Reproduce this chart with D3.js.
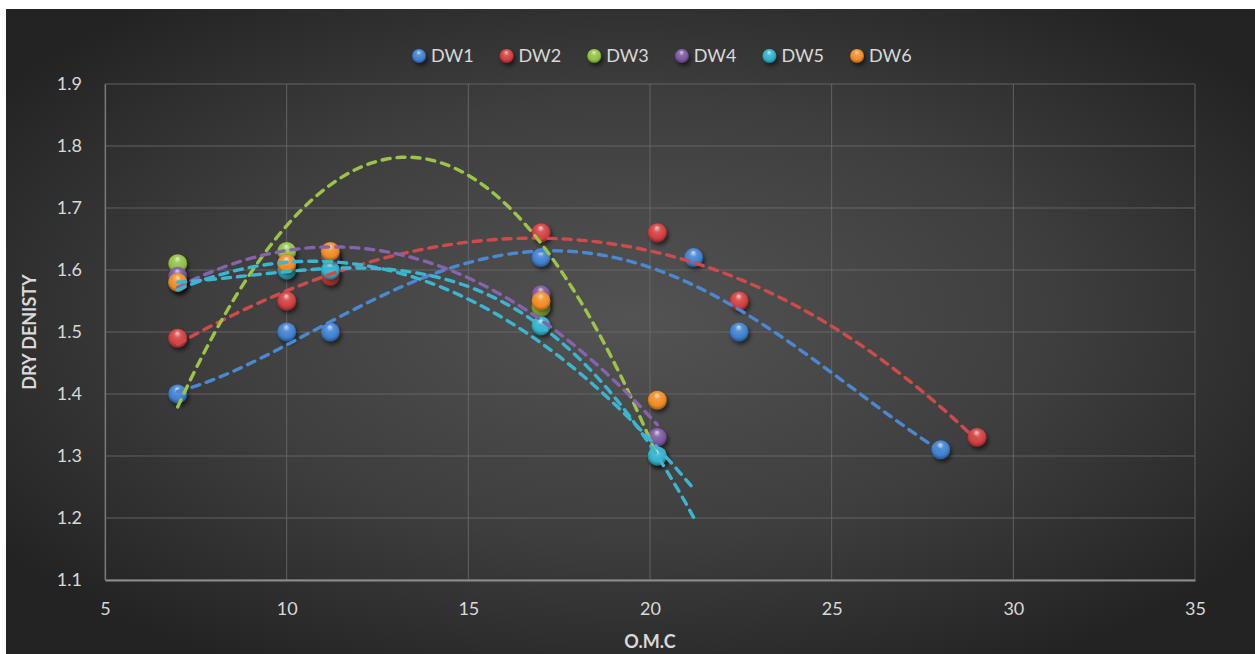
<!DOCTYPE html>
<html><head><meta charset="utf-8">
<script src="https://cdn.jsdelivr.net/npm/d3@7/dist/d3.min.js"></script>
<style>html,body{margin:0;padding:0;background:#fff;}svg{display:block;}</style>
</head><body>
<svg id="chart" width="1255" height="654"></svg>
<script>
// ---- data ----
const seriesNames = ["DW1","DW2","DW3","DW4","DW5","DW6"];
const seriesColors = ["#3d7fd0","#d23d3d","#92c140","#7a559f","#2fb0cb","#f08a20"];
const dw1X = [7,10,11.2,17,21.2,22.45,28];
const dw1Y = [1.40,1.50,1.50,1.62,1.62,1.50,1.31];
const dw2X = [7,10,11.2,17,20.2,22.45,29];
const dw2Y = [1.49,1.55,1.59,1.66,1.66,1.55,1.33];
const dw3X = [7,10,11.2,17,20.2];
const dw3Y = [1.61,1.63,1.62,1.54,1.30];
const dw4X = [7,10,11.2,17,20.2];
const dw4Y = [1.59,1.61,1.62,1.56,1.33];
const dw5X = [7,10,11.2,17,20.2];
const dw5Y = [1.58,1.60,1.60,1.51,1.30];
const dw6X = [7,10,11.2,17,20.2];
const dw6Y = [1.58,1.61,1.63,1.55,1.39];
// trendlines: least-squares polynomials of the series (order, forward forecast)
const trendSeries  = [0, 1, 3, 4, 4];
const trendOrder   = [4, 3, 2, 2, 3];
const trendForward = [0, 0, 0, 1, 1];
const trendColors  = ["#4a88d2","#cf4a4a","#8563ad","#3cb5d0","#3cb5d0"];
// DW3 trendline as drawn in the picture (vertex form: peak x, peak y, curvature), x range
const dw3TrendVertex = [13.3, 1.782, -0.01015];
const dw3TrendRange = [7, 20.2];
const dw3TrendColor = "#9dc448";
const xTicks = [5,10,15,20,25,30,35];
const yTicks = [1.1,1.2,1.3,1.4,1.5,1.6,1.7,1.8,1.9];
const xTitle = "O.M.C";
const yTitle = "DRY DENISTY";

const seriesX = [dw1X,dw2X,dw3X,dw4X,dw5X,dw6X];
const seriesY = [dw1Y,dw2Y,dw3Y,dw4Y,dw5Y,dw6Y];

const svg = d3.select("#chart");
const W = 1255, H = 654;
const font = "Lato, 'Open Sans', sans-serif";
const defs = svg.append("defs");

// background gradient
const bg = defs.append("radialGradient").attr("id","bg")
  .attr("cx","50%").attr("cy","48%").attr("r","62%");
bg.append("stop").attr("offset","0%").attr("stop-color","#535353");
bg.append("stop").attr("offset","55%").attr("stop-color","#3e3e3e");
bg.append("stop").attr("offset","100%").attr("stop-color","#232323");
svg.append("rect").attr("x",6).attr("y",9).attr("width",W-6).attr("height",H-9).attr("fill","url(#bg)");

// sphere gradients
function lighten(c,k){return d3.interpolateRgb(c,"#ffffff")(k);}
function darken(c,k){return d3.interpolateRgb(c,"#000000")(k);}
seriesColors.forEach((c,i)=>{
  const g = defs.append("radialGradient").attr("id","sph"+i)
    .attr("cx","50%").attr("cy","45%").attr("r","60%").attr("fx","48%").attr("fy","22%");
  g.append("stop").attr("offset","0%").attr("stop-color",lighten(c,0.75));
  g.append("stop").attr("offset","30%").attr("stop-color",lighten(c,0.15));
  g.append("stop").attr("offset","70%").attr("stop-color",c);
  g.append("stop").attr("offset","100%").attr("stop-color",darken(c,0.45));
});
const sh = defs.append("filter").attr("id","shadow").attr("x","-50%").attr("y","-50%").attr("width","200%").attr("height","200%");
sh.append("feDropShadow").attr("dx",2).attr("dy",3).attr("stdDeviation",2).attr("flood-color","#000").attr("flood-opacity",0.55);

// scales
const x = d3.scaleLinear().domain([5,35]).range([105,1195]);
const y = d3.scaleLinear().domain([1.1,1.9]).range([580,84]);

// gridlines
const grid = svg.append("g");
grid.selectAll("line.h").data(yTicks).join("line")
  .attr("x1",x(5)).attr("x2",x(35)).attr("y1",d=>y(d)).attr("y2",d=>y(d))
  .attr("stroke","#6a6a6a").attr("stroke-width",1).attr("opacity",0.85);
grid.selectAll("line.v").data(xTicks).join("line")
  .attr("y1",y(1.1)).attr("y2",y(1.9)).attr("x1",d=>x(d)).attr("x2",d=>x(d))
  .attr("stroke","#6a6a6a").attr("stroke-width",1).attr("opacity",0.85);

// axes
const xAxis = svg.append("g").attr("transform",`translate(0,${y(1.1)})`)
  .call(d3.axisBottom(x).tickValues(xTicks).tickSize(0).tickPadding(22).tickFormat(d3.format("d")));
xAxis.select(".domain").attr("stroke","#8c8c8c").attr("stroke-width",2.2);
xAxis.selectAll("text").attr("fill","#d9d9d9").attr("font-size",18).attr("font-family",font);
const yAxis = svg.append("g").attr("transform",`translate(${x(5)},0)`)
  .call(d3.axisLeft(y).tickValues(yTicks).tickSize(0).tickPadding(23).tickFormat(d3.format(".1f")));
yAxis.select(".domain").attr("stroke","#7a7a7a").attr("stroke-width",1.2);
yAxis.selectAll("text").attr("fill","#d9d9d9").attr("font-size",18).attr("font-family",font);

// axis titles
svg.append("text").attr("x",x(20)).attr("y",648).attr("text-anchor","middle")
  .attr("font-family",font).attr("font-weight","bold").attr("font-size",18).attr("fill","#d9d9d9").text(xTitle);
svg.append("text").attr("transform",`translate(36,${y(1.5)}) rotate(-90)`).attr("text-anchor","middle")
  .attr("font-family",font).attr("font-weight","bold").attr("font-size",18).attr("fill","#d9d9d9").text(yTitle);

// points
seriesNames.forEach((n,i)=>{
  const pts = seriesX[i].map((v,j)=>({x:v,y:seriesY[i][j]}));
  svg.append("g").attr("filter","url(#shadow)").selectAll("circle").data(pts).join("circle")
    .attr("cx",d=>x(d.x)).attr("cy",d=>y(d.y)).attr("r",9.5)
    .attr("fill",`url(#sph${i})`);
});

// least-squares polynomial fit (centred at 16 for conditioning)
function polyFit(xs, ys, deg){
  const c0 = 16, n = deg+1, A = [], B = [];
  for(let i=0;i<n;i++){
    A.push([]);
    for(let j=0;j<n;j++) A[i].push(d3.sum(xs, v=>Math.pow(v-c0,i+j)));
    B.push(d3.sum(xs, (v,k)=>ys[k]*Math.pow(v-c0,i)));
  }
  for(let i=0;i<n;i++){
    let p=i; for(let k=i+1;k<n;k++) if(Math.abs(A[k][i])>Math.abs(A[p][i])) p=k;
    [A[i],A[p]]=[A[p],A[i]]; [B[i],B[p]]=[B[p],B[i]];
    for(let k=0;k<n;k++){ if(k===i) continue; const f=A[k][i]/A[i][i];
      for(let j=i;j<n;j++) A[k][j]-=f*A[i][j]; B[k]-=f*B[i]; }
  }
  const c = B.map((b,i)=>b/A[i][i]);
  return xv => c.reduce((s,cc,j)=>s+cc*Math.pow(xv-c0,j),0);
}
const line = d3.line().x(d=>x(d.x)).y(d=>y(d.y));
function drawTrend(f, x0, x1, color){
  const pts = d3.range(0,151).map(k=>{const xv=x0+(x1-x0)*k/150; return {x:xv,y:f(xv)};});
  svg.append("path").datum(pts).attr("d",line).attr("fill","none")
    .attr("stroke",color).attr("stroke-width",3.4).attr("stroke-dasharray","8 7").attr("stroke-linecap","round");
}
trendSeries.forEach((si,i)=>{
  if(i===2){ // DW3 trend sits between DW2 and DW4 in draw order
    drawTrend(xv=>dw3TrendVertex[1]+dw3TrendVertex[2]*Math.pow(xv-dw3TrendVertex[0],2), dw3TrendRange[0], dw3TrendRange[1], dw3TrendColor);
  }
  const xs = seriesX[si], ys = seriesY[si];
  const f = polyFit(xs, ys, trendOrder[i]);
  drawTrend(f, d3.min(xs), d3.max(xs)+trendForward[i], trendColors[i]);
});

// legend
const legStep = 87.6, legX0 = 419, legY = 56;
const leg = svg.append("g");
seriesNames.forEach((n,i)=>{
  const gx = legX0 + i*legStep;
  leg.append("circle").attr("cx",gx).attr("cy",legY).attr("r",7).attr("fill",`url(#sph${i})`).attr("filter","url(#shadow)");
  leg.append("text").attr("x",gx+12).attr("y",legY).attr("dy","0.35em")
    .attr("font-family",font).attr("font-size",18).attr("fill","#d9d9d9").text(n);
});
</script>
</body></html>
